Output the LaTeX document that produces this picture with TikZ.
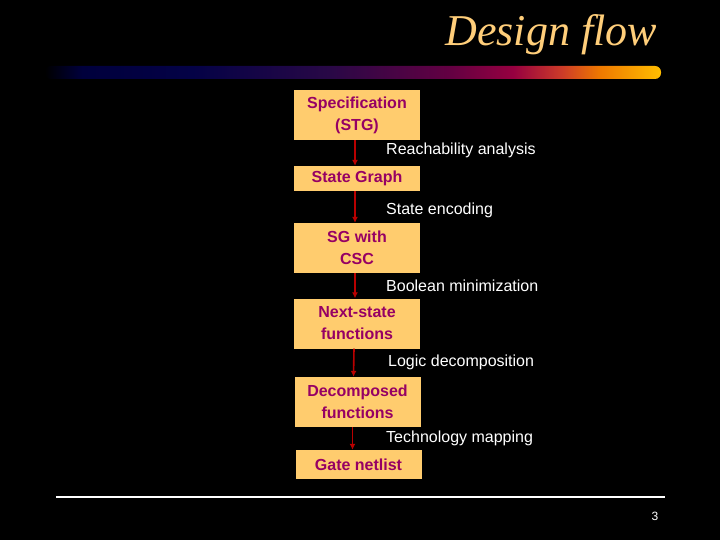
\documentclass[tikz,border=0pt]{standalone}
\usepackage{fontspec}
\setmainfont{Liberation Sans}
\newfontfamily\titlefont{Liberation Serif}
\usetikzlibrary{arrows.meta}

\definecolor{boxfill}{RGB}{255,204,110}
\definecolor{boxtext}{RGB}{150,0,100}
\definecolor{flowred}{RGB}{185,0,0}
\definecolor{titlecol}{RGB}{255,206,122}
\definecolor{barnavy}{RGB}{0,0,60}
\definecolor{barnavyb}{RGB}{4,2,70}
\definecolor{barpurple}{RGB}{40,8,70}
\definecolor{barplum}{RGB}{100,0,66}
\definecolor{barcrimson}{RGB}{150,0,64}
\definecolor{barred}{RGB}{205,60,40}
\definecolor{barorange}{RGB}{238,120,0}
\definecolor{baryellow}{RGB}{255,190,0}
\pgfdeclarehorizontalshading{titlebar}{100bp}{color(0bp)=(black); color(25bp)=(black);
  color(28bp)=(barnavy); color(37bp)=(barnavyb); color(48bp)=(barpurple);
  color(58bp)=(barplum); color(63bp)=(barcrimson); color(67bp)=(barred);
  color(70bp)=(barorange); color(75bp)=(baryellow); color(100bp)=(baryellow)}

\begin{document}
\begin{tikzpicture}[x=1pt,y=-1pt,
  stepbox/.style={fill=boxfill, text=boxtext, minimum width=126pt, minimum height=25pt,
    inner sep=2pt, align=center, font=\bfseries\fontsize{16}{22}\selectfont},
  tallbox/.style={stepbox, minimum height=50pt},
  toollabel/.style={anchor=west, inner sep=0pt, text=white, font=\fontsize{16}{18}\selectfont},
  flowarrow/.style={draw=flowred, line width=1.6pt, -{Latex[length=6pt,width=6pt]}}]
\useasboundingbox[fill=black] (0,0) rectangle (720,540);
% title and bar
\node[anchor=base east, inner sep=0pt, text=titlecol, font=\titlefont\itshape\fontsize{44}{50}\selectfont] (title) at (657,46){Design flow};
\fill[shading=titlebar, rounded corners=6pt] (45,66) rectangle (661,79);
% flow boxes
\node[tallbox] (spec) at (357,115){Specification\\(STG)};
\node[stepbox] (sg) at (357,178.5){State Graph};
\node[tallbox] (csc) at (357,248){SG with\\CSC};
\node[tallbox] (next) at (357,323.5){Next-state\\functions};
\node[tallbox] (decomp) at (357.5,402){Decomposed\\functions};
\node[stepbox, minimum height=29pt] (netlist) at (358.5,464.5){Gate netlist};
% tools
\node[toollabel] (reach) at (386,150){Reachability analysis};
\node[toollabel] (enc) at (386,210){State encoding};
\node[toollabel] (bool) at (386,286){Boolean minimization};
\node[toollabel] (logic) at (388,362){Logic decomposition};
\node[toollabel] (tech) at (386,438){Technology mapping};
\draw[flowarrow] ([xshift=-2pt]spec.south) -- ([xshift=-2pt]sg.north);
\draw[flowarrow] ([xshift=-2pt]sg.south) -- ([xshift=-2pt]csc.north);
\draw[flowarrow] ([xshift=-2pt]csc.south) -- ([xshift=-2pt]next.north);
\draw[flowarrow] ([xshift=-3pt]next.south) -- ([xshift=-4pt]decomp.north);
\draw[flowarrow] ([xshift=-5pt]decomp.south) -- ([xshift=-6pt]netlist.north);
% footer
\coordinate (ruleL) at (56,497);
\coordinate (ruleR) at (665,497);
\draw[white, line width=2pt] (ruleL) -- (ruleR);
\node[text=white, inner sep=0pt, font=\fontsize{12}{14}\selectfont] (page) at (655,516){3};
\end{tikzpicture}
\end{document}
